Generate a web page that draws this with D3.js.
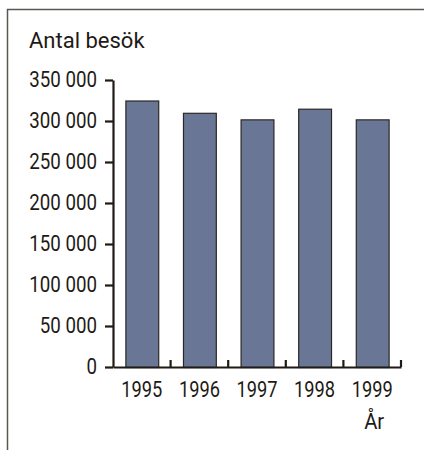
<!DOCTYPE html>
<html>
<head>
<meta charset="utf-8">
<script src="https://cdn.jsdelivr.net/npm/d3@7"></script>
<style>
  body { margin: 0; background: #fff; }
  text { font-family: Roboto, "Liberation Sans", Arial, sans-serif; fill: #1e1a16; }
</style>
</head>
<body>
<div id="chart"></div>
<script>
const years = ['1995', '1996', '1997', '1998', '1999'];
const visits = [325000, 310000, 302000, 315000, 302000];
const y_ticks = [0, 50000, 100000, 150000, 200000, 250000, 300000, 350000];
const y_title = 'Antal besök';
const x_title = 'År';

const WIDTH = 424, HEIGHT = 450;
const PLOT = { LEFT: 113, RIGHT: 401, TOP: 80, BOTTOM: 367 };
const INK = '#1e1a16';
const FONT = 22;

const fmt = d3.formatLocale({ decimal: ',', thousands: ' ', grouping: [3], currency: ['', ' kr'] }).format(',d');

// smalare text (typsnittet i originalet är kondenserat)
function squeeze(sel, k) {
    sel.each(function() {
        let w = this.getComputedTextLength();
        d3.select(this).attr('textLength', w * k).attr('lengthAdjust', 'spacingAndGlyphs');
    });
}

let svg = d3.select('#chart')
    .append('svg')
    .attr('width', WIDTH)
    .attr('height', HEIGHT);

// ram: bara vänster + topp
svg.append('path')
    .attr('d', `M7.5,${HEIGHT} V9.5 H${WIDTH}`)
    .attr('fill', 'none')
    .attr('stroke', '#5a5750')
    .attr('stroke-width', 1.5);

let x = d3.scaleBand().domain(years).range([PLOT.LEFT, PLOT.RIGHT]).paddingInner(0.43).paddingOuter(0.215);
let y = d3.scaleLinear().domain([0, 350000]).range([PLOT.BOTTOM, PLOT.TOP]);

// staplar
svg.append('g')
    .selectAll('rect')
    .data(years)
    .enter()
    .append('rect')
    .attr('x', d => x(d) + 0.5)
    .attr('y', (d, i) => y(visits[i]) + 0.5)
    .attr('width', x.bandwidth())
    .attr('height', (d, i) => y(0) - y(visits[i]))
    .attr('fill', '#6a7696')
    .attr('stroke', '#2b2825')
    .attr('stroke-width', 1.2);

// y-axel
let y_axis = svg.append('g')
    .attr('transform', `translate(${PLOT.LEFT},0)`)
    .call(d3.axisLeft(y).tickValues(y_ticks).tickFormat(fmt).tickSize(8).tickPadding(8).tickSizeOuter(0));
y_axis.select('.domain').attr('stroke', INK).attr('stroke-width', 2.2);
y_axis.selectAll('.tick line').attr('stroke', INK).attr('stroke-width', 2.2);
y_axis.selectAll('.tick text')
    .attr('font-size', FONT)
    .attr('font-family', null)
    .attr('dy', '0.3em')
    .attr('fill', INK)
    .call(squeeze, 0.85);

// x-axel
let x_axis = svg.append('g')
    .attr('transform', `translate(0,${PLOT.BOTTOM})`)
    .call(d3.axisBottom(x).tickSize(0).tickPadding(14));
x_axis.select('.domain').attr('stroke', INK).attr('stroke-width', 2.2);
x_axis.selectAll('.tick text')
    .attr('font-size', FONT)
    .attr('font-family', null)
    .attr('fill', INK)
    .call(squeeze, 0.83);

// x-streck mellan staplarna
svg.append('g')
    .selectAll('line')
    .data(years)
    .enter()
    .append('line')
    .attr('x1', d => x(d) + x.step() - x.step() * x.paddingInner() / 2)
    .attr('x2', d => x(d) + x.step() - x.step() * x.paddingInner() / 2)
    .attr('y1', PLOT.BOTTOM)
    .attr('y2', PLOT.BOTTOM - 7)
    .attr('stroke', INK)
    .attr('stroke-width', 2.2);

svg.append('text')
    .attr('x', 29)
    .attr('y', 48)
    .attr('font-size', FONT)
    .text(y_title)
    .call(squeeze, 1.0);

svg.append('text')
    .attr('x', x(years[4]) + x.bandwidth() / 2 + 2)
    .attr('y', 429)
    .attr('text-anchor', 'middle')
    .attr('font-size', FONT)
    .text(x_title)
    .call(squeeze, 0.92);
</script>
</body>
</html>
